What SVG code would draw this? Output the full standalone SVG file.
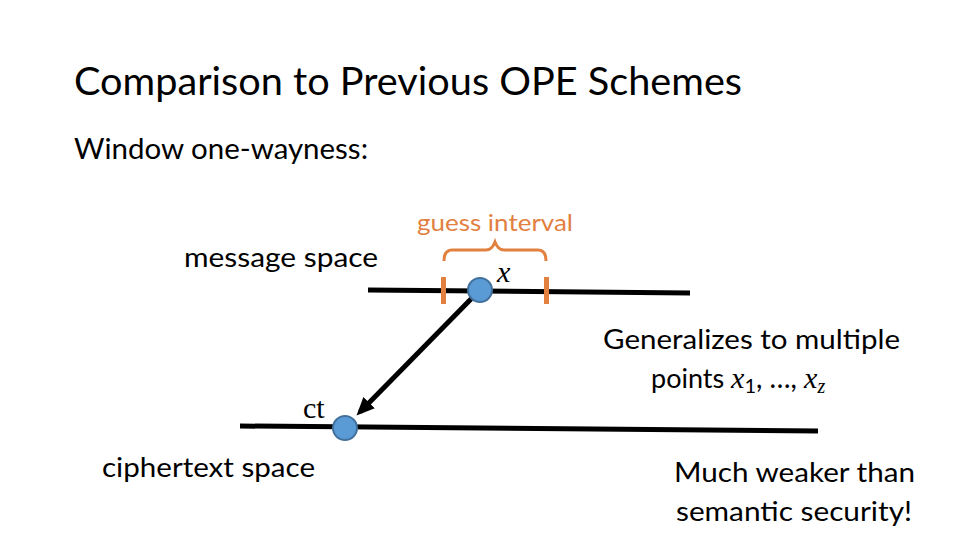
<svg xmlns="http://www.w3.org/2000/svg" width="960" height="540" viewBox="0 0 960 540">
<style>
.t{font-family:Lato,"Open Sans","Liberation Sans",sans-serif;fill:#000}
.m{font-family:"Liberation Serif","DejaVu Serif",serif;font-style:italic}
.o{fill:#E2803F}
.ln{stroke:#000;stroke-width:5;fill:none}
.dot{fill:#5B9BD5;stroke:#41719C;stroke-width:2}
</style>
<defs>
<marker id="ah" markerWidth="3.6" markerHeight="3.2" refX="2.6" refY="1.6" orient="auto" markerUnits="strokeWidth">
<path d="M0,0 L3.6,1.6 L0,3.2 Z" fill="#000"/>
</marker>
</defs>
<rect width="960" height="540" fill="#fff"/>
<text class="t" x="74" y="95" font-size="38" textLength="668" lengthAdjust="spacingAndGlyphs">Comparison to Previous OPE Schemes</text>
<text class="t" x="74" y="159" font-size="28" textLength="294" lengthAdjust="spacingAndGlyphs">Window one-wayness:</text>
<text class="t" x="184" y="267" font-size="26" textLength="194" lengthAdjust="spacingAndGlyphs">message space</text>
<text class="t" x="102" y="477" font-size="26" textLength="213" lengthAdjust="spacingAndGlyphs">ciphertext space</text>
<text class="t o" x="417" y="231" font-size="24" textLength="156" lengthAdjust="spacingAndGlyphs">guess interval</text>
<g id="connectors">
<path class="ln" d="M368,290 L690,293"/>
<path class="ln" d="M240,426 L818,431"/>
<path d="M472,298 L360,412" stroke="#000" stroke-width="5" fill="none" marker-end="url(#ah)"/>
</g>
<g id="interval">
<path d="M444,261 Q444,250 452,250 L486,250 Q492,250 495,242 Q498,250 504,250 L538,250 Q546,250 546,261" stroke="#E2803F" stroke-width="3" fill="none"/>
<rect x="441" y="277" width="5" height="27" fill="#E2803F"/>
<rect x="544" y="277" width="5" height="27" fill="#E2803F"/>
</g>
<g id="node-x">
<circle class="dot" cx="480" cy="290" r="12"/>
<text class="m" x="497" y="282" font-size="30">x</text>
</g>
<g id="node-ct">
<circle class="dot" cx="345" cy="428" r="12"/>
<text x="303" y="418" font-size="30" font-family="Liberation Serif,DejaVu Serif,serif">ct</text>
</g>
<text class="t" x="603" y="349" font-size="27" textLength="297" lengthAdjust="spacingAndGlyphs">Generalizes to multiple</text>
<text class="t" x="651" y="388" font-size="27">points <tspan class="m" font-size="30">x</tspan><tspan font-size="20" dy="5">1</tspan><tspan dy="-5" font-size="28">, …, </tspan><tspan class="m" font-size="30">x</tspan><tspan class="m" font-size="20" dy="5">z</tspan></text>
<text class="t" x="674" y="482" font-size="27" textLength="241" lengthAdjust="spacingAndGlyphs">Much weaker than</text>
<text class="t" x="676" y="521" font-size="27" textLength="236" lengthAdjust="spacingAndGlyphs">semantic security!</text>
</svg>
